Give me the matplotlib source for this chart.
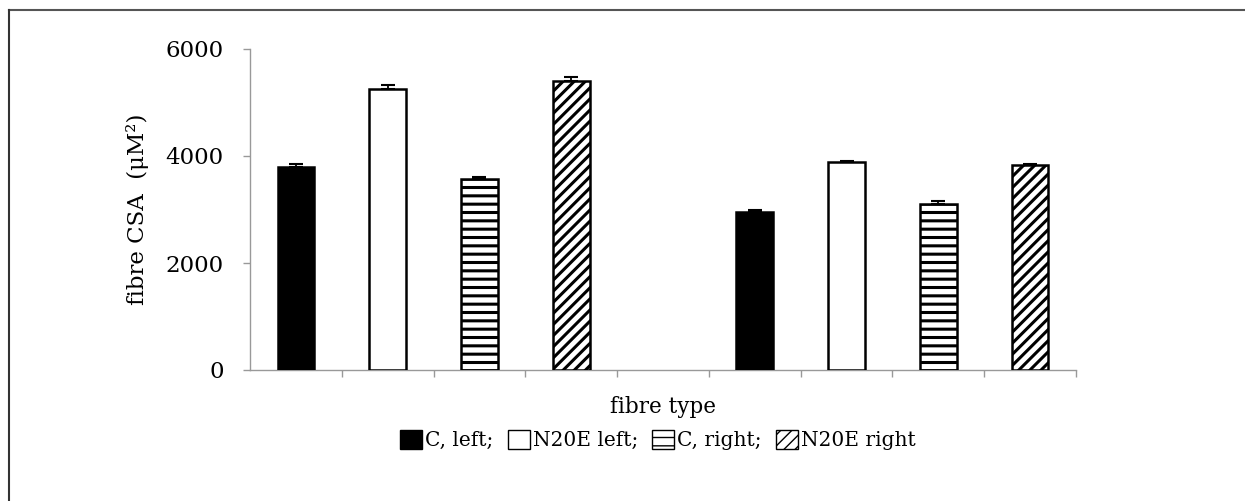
import numpy as np
import matplotlib.pyplot as plt
import matplotlib.patches as mpatches
from matplotlib.lines import Line2D

plt.rcParams['font.family'] = ['DejaVu Serif']
plt.rcParams['hatch.linewidth'] = 2.2

# data (fibre CSA, um^2)
groups = ['group 1', 'group 2']
series = ['C, left;', 'N20E left;', 'C, right;', 'N20E right']
means_g1 = [3790, 5250, 3565, 5400]
means_g2 = [2945, 3880, 3110, 3825]
err_g1 = [60, 80, 50, 80]
err_g2 = [45, 30, 45, 30]
yticks = [0, 2000, 4000, 6000]

fills = ['black', 'white', 'white', 'white']
hatches = [None, None, '--', '///']

fig = plt.figure(figsize=(12.45, 5.01), dpi=100)
ax = fig.add_axes([250/1245, (501-370)/501, 826/1245, 321/501])

# 9 slots: 4 bars, empty slot, 4 bars
pos_g1 = np.arange(4) + 0.5
pos_g2 = np.arange(4) + 5.5
for i in range(4):
    for pos, m, e in [(pos_g1[i], means_g1[i], err_g1[i]), (pos_g2[i], means_g2[i], err_g2[i])]:
        ax.bar(pos, m, width=0.4, color=fills[i], edgecolor='black',
               linewidth=1.8, hatch=hatches[i], zorder=3)
        ax.errorbar(pos, m, yerr=[[0], [e]], color='black', capsize=5,
                    elinewidth=1.3, capthick=1.5, zorder=4)

ax.set_xlim(0, 9)
ax.set_ylim(0, 6000)
ax.set_xticks(np.arange(1, 10))
ax.set_xticklabels([])
ax.set_yticks(yticks)
ax.set_yticklabels([str(t) for t in yticks], fontsize=16.5)
ax.tick_params(axis='y', direction='out', length=5, width=1, color='#999999', pad=14)
ax.tick_params(axis='x', direction='out', length=5, width=1, color='#999999')
for s in ['top', 'right']:
    ax.spines[s].set_visible(False)
for s in ['left', 'bottom']:
    ax.spines[s].set_color('#999999')
    ax.spines[s].set_linewidth(1.0)

ax.set_ylabel('fibre CSA  (\u03bcM\u00b2)', fontsize=16.5, labelpad=12)
fig.text(663/1245, (501-407)/501, 'fibre type', fontsize=15.5, ha='center', va='center')

plt.rcParams['hatch.linewidth'] = 1.0
handles = [mpatches.Patch(facecolor=fills[i], edgecolor='black', linewidth=1.0,
                          hatch=hatches[i], label=series[i]) for i in range(4)]
leg = fig.legend(handles=handles, loc='center', bbox_to_anchor=(658/1245, (501-440)/501),
                 ncol=4, frameon=False, fontsize=14.5, handlelength=1.1, handleheight=1.1,
                 handletextpad=0.15, columnspacing=0.7)

# frame lines of the figure panel
fig.add_artist(Line2D([9/1245, 1], [1-10/501, 1-10/501], color='#555555', linewidth=1.5,
                      transform=fig.transFigure))
fig.add_artist(Line2D([9/1245, 9/1245], [0, 1-10/501], color='#333333', linewidth=1.5,
                      transform=fig.transFigure))

fig.savefig('out.png', dpi=100)
